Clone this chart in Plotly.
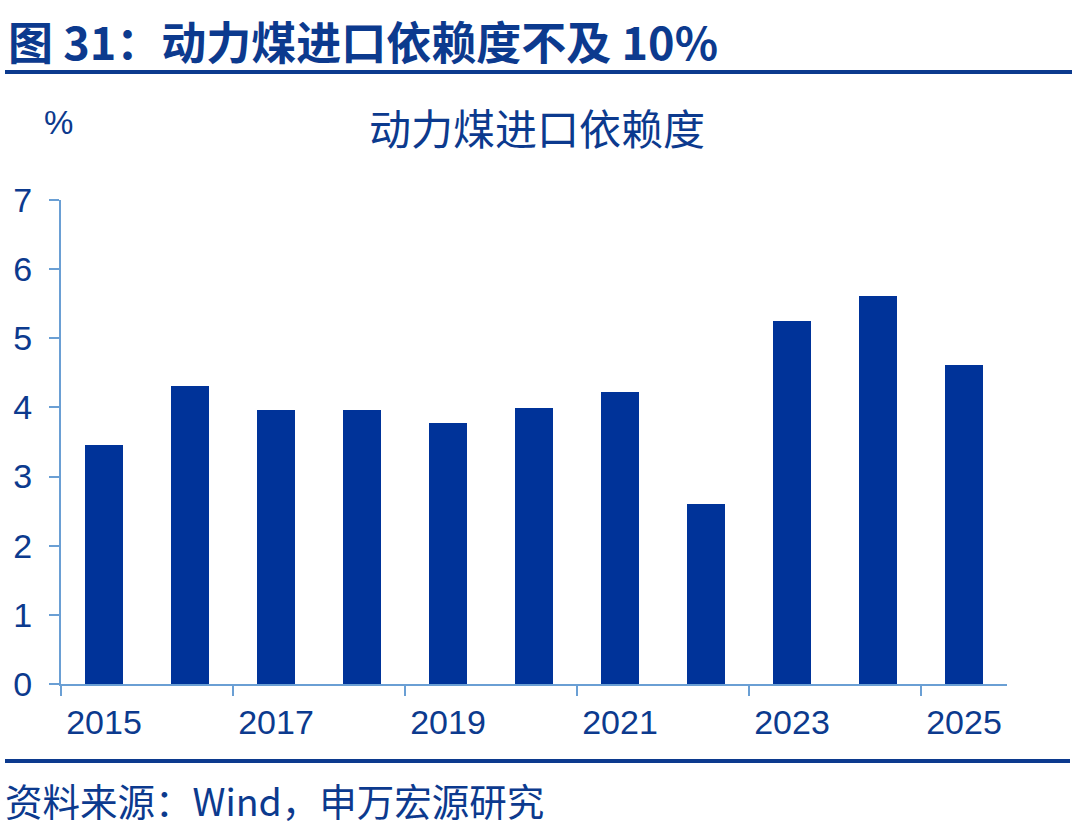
import plotly.graph_objects as go

years = ["2015", "2016", "2017", "2018", "2019", "2020", "2021", "2022", "2023", "2024", "2025"]
dependency = [3.45, 4.31, 3.96, 3.96, 3.78, 3.99, 4.22, 2.60, 5.25, 5.61, 4.61]
tick_years = ["2015", "2017", "2019", "2021", "2023", "2025"]
y_ticks = [0, 1, 2, 3, 4, 5, 6, 7]

BAR = "#003399"
TXT = "#0c3a8e"
AX = "#6a9fd4"
LAT = "Liberation Sans, Arial, Noto Sans CJK SC"
CJK = "Noto Sans CJK SC, Liberation Sans"

xpos = list(range(len(years)))
tick_pos = [years.index(y) for y in tick_years]

# plot area in page pixels: x 61..1007, y 200..684
PW, PH = 946, 484
def px(x):
    return (x - 61) / PW
def py(y):
    return (684 - y) / PH

fig = go.Figure()
fig.add_trace(go.Bar(x=xpos, y=dependency, width=0.45, marker=dict(color=BAR, line=dict(width=0)),
                     hovertext=years))

fig.update_layout(
    width=1080, height=828,
    margin=dict(l=61, r=73, t=200, b=144),
    paper_bgcolor="white", plot_bgcolor="white",
    showlegend=False,
    bargap=0,
    xaxis=dict(range=[-0.5, 10.5], tickvals=tick_pos, ticktext=tick_years, ticks="",
               showline=True, linecolor=AX, linewidth=2, showgrid=False, zeroline=False,
               tickfont=dict(family=LAT, size=34, color=TXT), ticklabelstandoff=7,
               minor=dict(tick0=-0.5, dtick=2, ticks="outside", ticklen=10, tickcolor=AX, tickwidth=2, showgrid=False)),
    yaxis=dict(range=[0, 7], tickvals=y_ticks, ticks="outside", ticklen=10, tickcolor=AX, tickwidth=2,
               showline=True, linecolor=AX, linewidth=2, showgrid=False, zeroline=False,
               tickfont=dict(family=LAT, size=34, color=TXT), ticklabelstandoff=10),
)

fig.add_annotation(text="<b>图 31：动力煤进口依赖度不及 10%</b>", xref="paper", yref="paper",
                   x=px(6), y=py(40), xanchor="left", yanchor="middle", showarrow=False,
                   font=dict(family=CJK, size=45, color=TXT))
fig.add_annotation(text="动力煤进口依赖度", xref="paper", yref="paper",
                   x=px(537), y=py(127), xanchor="center", yanchor="middle", showarrow=False,
                   font=dict(family=CJK, size=42, color=TXT))
fig.add_annotation(text="%", xref="paper", yref="paper",
                   x=px(58), y=py(123), xanchor="center", yanchor="middle", showarrow=False,
                   font=dict(family=LAT, size=33, color=TXT))
fig.add_annotation(text="资料来源：Wind，申万宏源研究", xref="paper", yref="paper",
                   x=px(4), y=py(799), xanchor="left", yanchor="middle", showarrow=False,
                   font=dict(family=CJK, size=37.5, color=TXT), borderpad=0)

fig.add_shape(type="line", xref="paper", yref="paper", x0=px(5), x1=px(1072),
              y0=py(72), y1=py(72), line=dict(color=TXT, width=4))
fig.add_shape(type="line", xref="paper", yref="paper", x0=px(5), x1=px(1070),
              y0=py(761), y1=py(761), line=dict(color=TXT, width=4))

fig.write_html("out.html", config={"displayModeBar": False},
               post_script="document.body.style.margin='0';document.body.style.overflow='hidden';")
